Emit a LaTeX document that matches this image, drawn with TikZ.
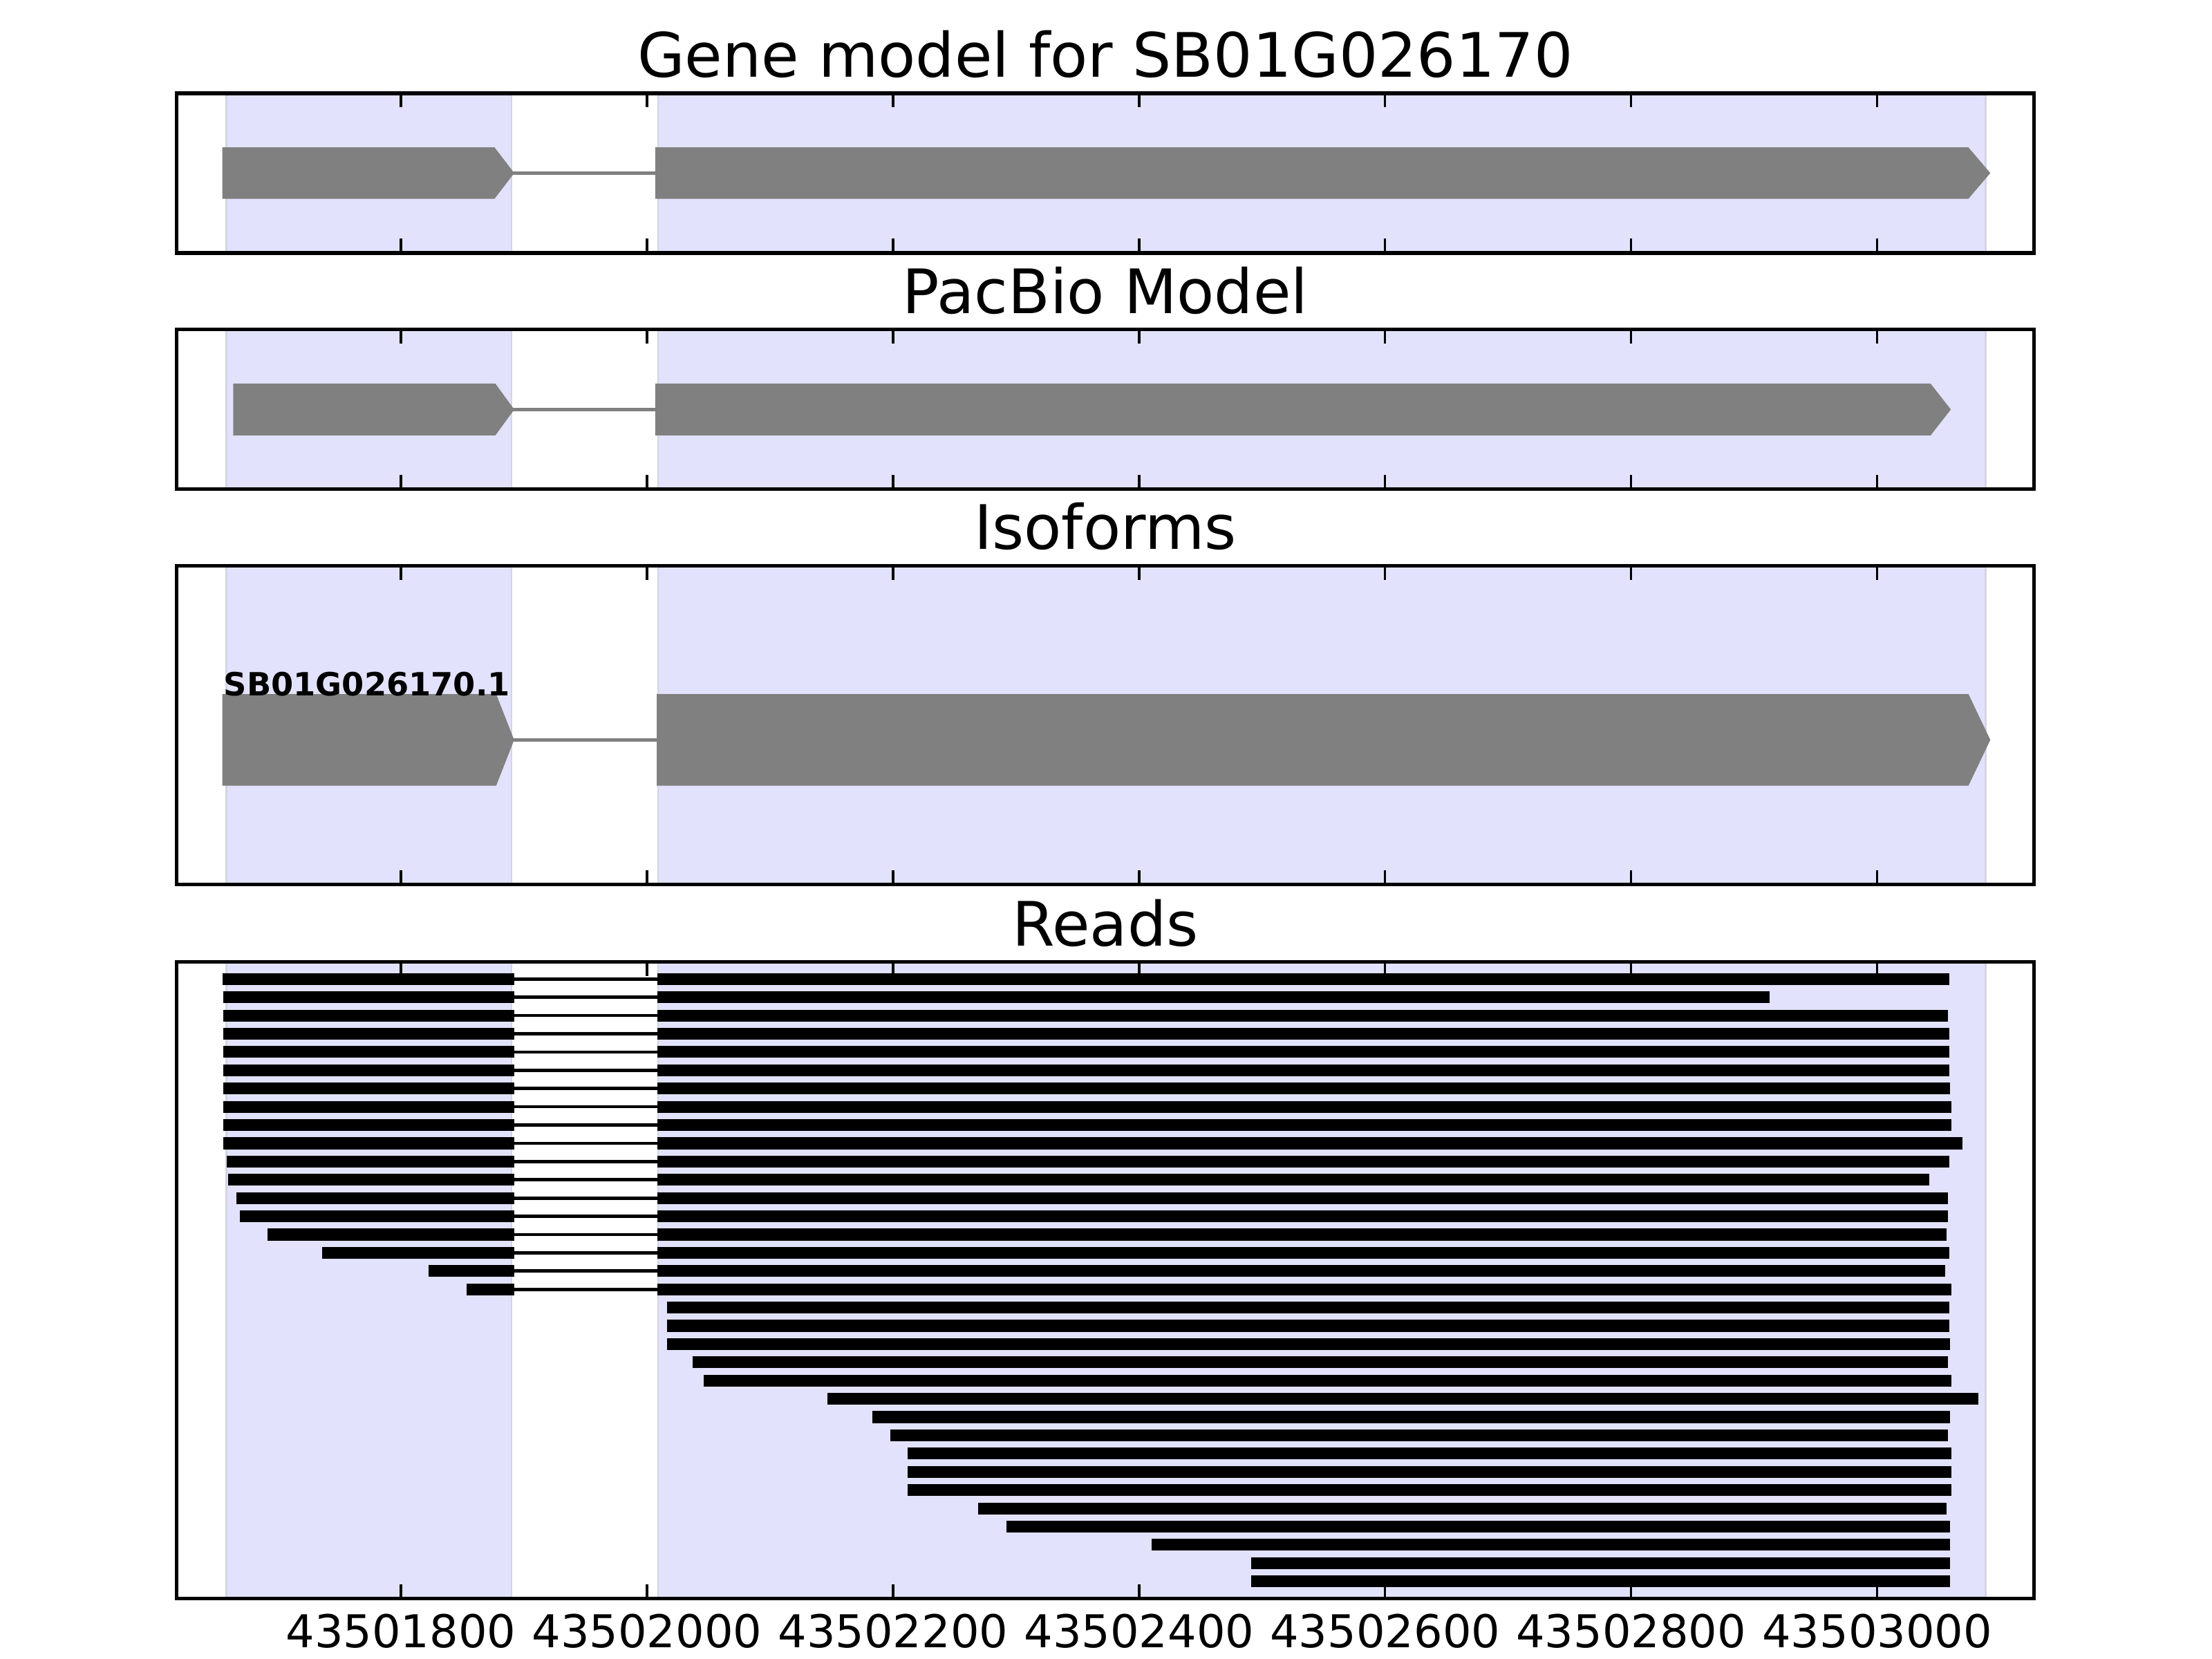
\documentclass[tikz,border=0pt]{standalone}
\usepackage{fontspec}
\setmainfont{DejaVu Sans}
\definecolor{exonshade}{RGB}{226,226,252}
\definecolor{exonedge}{RGB}{212,212,230}
\definecolor{genegray}{RGB}{128,128,128}
\tikzset{
  panel/.style={draw=black,line width=0.75pt},
  shade/.style={fill=exonshade,draw=exonedge,line width=0.4pt},
  genebar/.style={fill=genegray},
  intron/.style={draw=genegray,line width=0.7pt},
  readintron/.style={draw=black,line width=0.65pt},
  tickmark/.style={line width=0.45pt},
  paneltitle/.style={font=\fontsize{12.36}{14}\selectfont,anchor=base,inner sep=0pt},
  ticklabel/.style={font=\fontsize{9.12}{11}\selectfont,anchor=base,inner sep=0pt},
}
% start, shoulder, tip, centre, half height
\newcommand{\exonarrow}[5]{%
  \fill[genebar] (#1,#4-#5) -- (#2,#4-#5) -- (#3,#4) -- (#2,#4+#5) -- (#1,#4+#5) -- cycle;}
\begin{document}
\begin{tikzpicture}[x=0.8721cm,y=-1cm]
  \useasboundingbox (-1.259,0) rectangle (16.721,11.76);
  \foreach \name/\top/\bot/\ttl in {gene/0.661/1.793/{Gene model for SB01G026170},
      pacbio/2.336/3.467/{PacBio Model},iso/4.01/6.27/{Isoforms},reads/6.82/11.33/{Reads}} {
    \filldraw[shade] (0.582,\top) rectangle (2.899,\bot);
    \filldraw[shade] (4.090,\top) rectangle (14.882,\bot);
    \node[paneltitle] (\name-title) at (7.725,\top-0.115) {\ttl};
  }
  % gene model
  \draw[intron] (2.9,1.227) -- (4.1,1.227);
  \exonarrow{0.548}{2.761}{2.921}{1.227}{0.182}
  \exonarrow{4.067}{14.741}{14.919}{1.227}{0.182}
  % pacbio
  \draw[intron] (2.9,2.903) -- (4.1,2.903);
  \exonarrow{0.637}{2.767}{2.921}{2.903}{0.184}
  \exonarrow{4.067}{14.433}{14.598}{2.903}{0.184}
  % isoforms
  \draw[intron] (2.9,5.245) -- (4.1,5.245);
  \exonarrow{0.548}{2.774}{2.920}{5.245}{0.325}
  \exonarrow{4.080}{14.741}{14.919}{5.245}{0.325}
  \node[font=\bfseries\fontsize{6.45}{7}\selectfont,anchor=base west,inner sep=0pt]
    (iso-label) at (0.553,4.93) {SB01G026170.1};
  % reads
  \foreach \s/\e [count=\i] in {0.548/14.588,0.557/13.127,0.557/14.575,0.557/14.588,
      0.557/14.588,0.557/14.588,0.557/14.592,0.557/14.603,0.557/14.603,0.557/14.693,
      0.583/14.588,0.597/14.425,0.660/14.575,0.690/14.575,0.913/14.565,1.360/14.588,
      2.222/14.553,2.532/14.603} {
    \pgfmathsetmacro\ry{6.94+0.1294*(\i-1)}
    \fill (\s,\ry-0.042) rectangle (2.922,\ry+0.042);
    \draw[readintron] (2.922,\ry) -- (4.083,\ry);
    \fill (4.083,\ry-0.042) rectangle (\e,\ry+0.042);
  }
  \foreach \s/\e [count=\i from 19] in {4.162/14.588,4.162/14.588,4.162/14.592,
      4.371/14.575,4.461/14.603,5.464/14.822,5.833/14.592,5.980/14.575,6.120/14.603,
      6.120/14.603,6.120/14.603,6.693/14.565,6.922/14.592,8.099/14.592,8.912/14.592,
      8.912/14.592} {
    \pgfmathsetmacro\ry{6.94+0.1294*(\i-1)}
    \fill (\s,\ry-0.042) rectangle (\e,\ry+0.042);
  }
  % ticks and frames
  \foreach \top/\bot in {0.661/1.793,2.336/3.467,4.01/6.27,6.82/11.33} {
    \foreach \t in {2,4,...,14} {
      \draw[tickmark] (\t,\top) -- ++(0,0.1);
      \draw[tickmark] (\t,\bot) -- ++(0,-0.1);
    }
    \draw[panel] (0.175,\top) rectangle (15.275,\bot);
  }
  \foreach \t/\lab in {2/43501800,4/43502000,6/43502200,8/43502400,10/43502600,
      12/43502800,14/43503000}
    \node[ticklabel] (tick-\t) at (\t,11.678) {\lab};
\end{tikzpicture}
\end{document}
